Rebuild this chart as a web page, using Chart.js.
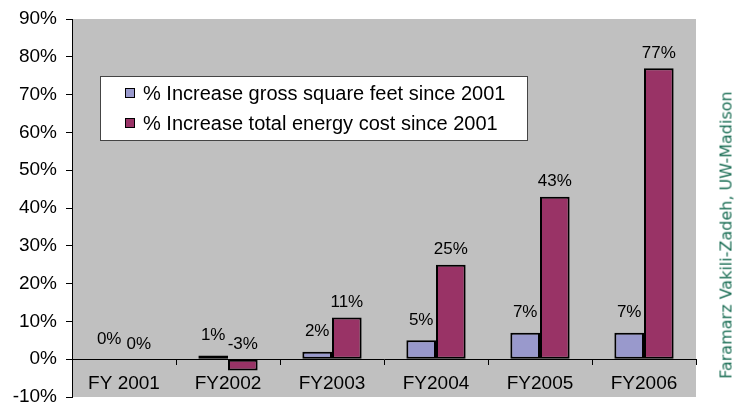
<!DOCTYPE html>
<html>
<head>
<meta charset="utf-8">
<script src="https://cdn.jsdelivr.net/npm/chart.js@4/dist/chart.umd.min.js"></script>
<style>
  html, body { margin: 0; padding: 0; background: #fff; }
  #wrap { position: relative; width: 740px; height: 402px; }
  #credit {
    position: absolute; left: 726px; top: 235px;
    transform: translate(-50%, -50%) rotate(-90deg);
    white-space: nowrap;
    font: 16px "DejaVu Sans", sans-serif;
    color: #1b6e55;
  }
</style>
</head>
<body>
<div id="wrap">
  <canvas id="chart" width="740" height="402"></canvas>
  <div id="credit">Faramarz Vakili-Zadeh, UW-Madison</div>
</div>
<script>
const categories = ['FY 2001', 'FY2002', 'FY2003', 'FY2004', 'FY2005', 'FY2006'];
const seriesNames = ['% Increase gross square feet since 2001', '% Increase total energy cost since 2001'];
const grossSquareFeet = [0, 1, 2, 5, 7, 7];
const energyCost = [0, -3, 11, 25, 43, 77];
const yTicks = [-10, 0, 10, 20, 30, 40, 50, 60, 70, 80, 90];

const FONT = '"Liberation Sans", Arial, sans-serif';

// grey plot background
const plotBackground = {
    id: 'plotBackground',
    beforeDraw(chart) {
        const { ctx, chartArea: a } = chart;
        ctx.save();
        ctx.fillStyle = '#c0c0c0';
        ctx.fillRect(a.left, a.top, a.right - a.left, a.bottom - a.top);
        ctx.restore();
    }
};

// value labels above each bar
const valueLabels = {
    id: 'valueLabels',
    afterDatasetsDraw(chart) {
        const ctx = chart.ctx;
        const gaps = [20, 15];
        ctx.save();
        ctx.font = '17px ' + FONT;
        ctx.fillStyle = '#000';
        ctx.textAlign = 'center';
        ctx.textBaseline = 'middle';
        chart.data.datasets.forEach((ds, i) => {
            chart.getDatasetMeta(i).data.forEach((bar, j) => {
                const top = Math.min(bar.y, bar.base);
                ctx.fillText(ds.data[j] + '%', bar.x, top - gaps[i]);
            });
        });
        ctx.restore();
    }
};

// boxed legend inside the plot
const boxLegend = {
    id: 'boxLegend',
    afterDraw(chart) {
        const ctx = chart.ctx;
        const x = 100, y = 76, w = 427, h = 64;
        ctx.save();
        ctx.fillStyle = '#fff';
        ctx.fillRect(x, y, w, h);
        ctx.strokeStyle = '#444';
        ctx.lineWidth = 1;
        ctx.strokeRect(x + 0.5, y + 0.5, w, h);
        ctx.font = '20px ' + FONT;
        ctx.textBaseline = 'middle';
        chart.data.datasets.forEach((ds, i) => {
            const cy = y + 17 + i * 30;
            ctx.fillStyle = ds.backgroundColor;
            ctx.fillRect(125, cy - 5, 10, 10);
            ctx.strokeStyle = '#000';
            ctx.strokeRect(125.5, cy - 4.5, 9, 9);
            ctx.fillStyle = '#000';
            ctx.fillText(ds.label, 143, cy + 1);
        });
        ctx.restore();
    }
};

const barStyle = {
    borderColor: '#000',
    borderWidth: 2,
    borderSkipped: false,
    categoryPercentage: 0.57,
    barPercentage: 1
};

new Chart(document.getElementById('chart'), {
    type: 'bar',
    data: {
        labels: categories,
        datasets: [
            { label: seriesNames[0], data: grossSquareFeet, backgroundColor: '#9999cc', ...barStyle },
            { label: seriesNames[1], data: energyCost, backgroundColor: '#993366', ...barStyle }
        ]
    },
    options: {
        responsive: false,
        animation: false,
        layout: { padding: { left: 0, top: 19, right: 44, bottom: 5 } },
        plugins: {
            legend: { display: false },
            tooltip: { enabled: false }
        },
        scales: {
            x: {
                position: { y: 0 },
                afterFit(scale) {
                    scale.height = 0;
                    scale.paddingLeft = 0;
                    scale.paddingRight = 0;
                },
                grid: { display: true, drawOnChartArea: false, offset: true, tickLength: 5, color: '#000' },
                border: { display: true, color: '#000', width: 1 },
                ticks: { color: '#000', padding: 8, font: { family: FONT, size: 19 } }
            },
            y: {
                min: -10,
                max: 90,
                afterFit(scale) {
                    scale.width = 72;
                    scale.paddingTop = 0;
                    scale.paddingBottom = 0;
                },
                afterBuildTicks(scale) { scale.ticks = yTicks.map(v => ({ value: v })); },
                grid: { display: true, drawOnChartArea: false, tickLength: 6, color: '#000' },
                border: { display: true, color: '#000', width: 1 },
                ticks: {
                    color: '#000',
                    padding: 9,
                    font: { family: FONT, size: 19 },
                    callback: v => v + '%'
                }
            }
        }
    },
    plugins: [plotBackground, valueLabels, boxLegend]
});
</script>
</body>
</html>
